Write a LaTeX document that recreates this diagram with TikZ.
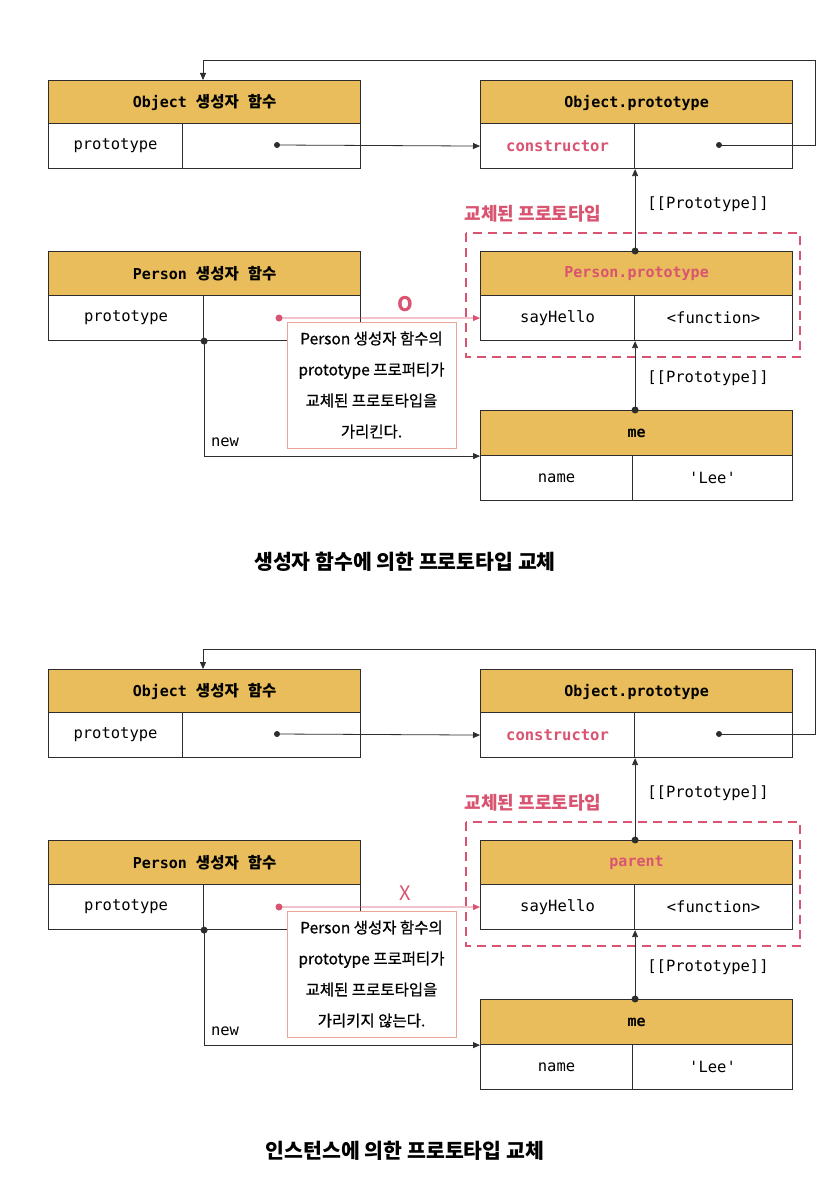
\documentclass[tikz,border=0pt]{standalone}
\usepackage{fontspec}
\setmainfont{Noto Sans CJK KR}
\setmonofont{DejaVu Sans Mono}
\newfontfamily\notefont{Noto Sans CJK KR}[FakeBold=0.7]
\usetikzlibrary{arrows.meta}

\definecolor{hdrgold}{RGB}{233,189,92}
\definecolor{jspink}{RGB}{217,84,112}
\definecolor{notepink}{RGB}{235,165,150}
\definecolor{ink}{RGB}{45,45,45}

\newcommand\code[1]{{\ttfamily\fontsize{15}{17}\selectfont #1}}
\newcommand\widesp{\spaceskip=9pt\relax}

\tikzset{
  hdr/.style={draw=ink, fill=hdrgold, line width=1.1pt, minimum width=312pt,
    minimum height=44pt, inner sep=0pt, anchor=north west,
    font=\fontsize{15.5}{18}\selectfont\bfseries},
  cell/.style={draw=ink, fill=white, line width=1.1pt, minimum height=45pt,
    inner sep=0pt, anchor=north west, font=\ttfamily\fontsize{15.5}{17}\selectfont},
  link/.style={draw=ink, line width=0.8pt, -{Triangle[length=7pt,width=6pt]}},
  dot/.style={fill=ink},
  codelbl/.style={font=\ttfamily\fontsize{15.5}{17}\selectfont},
  swaplbl/.style={text=jspink, font=\fontsize{18}{20}\selectfont\bfseries},
  dashbox/.style={draw=jspink, line width=2.2pt, dash pattern=on 9pt off 6pt},
  callout/.style={draw=notepink, fill=white, line width=0.9pt, minimum width=169pt,
    minimum height=126pt, align=center, font=\notefont\fontsize{15.5}{31}\selectfont},
  caption/.style={font=\fontsize{20.5}{24}\selectfont\bfseries}
}

% #1 prefix, #2 replaced prototype, #3 mark, #4 last note line, #5 caption
\newcommand\protoscene[5]{%
% dashed frame round the replaced prototype
\draw[dashbox] (466,233) rectangle (800,357);
\node[swaplbl] (#1swap) at (533,214) {교체된 프로토타입};

% Object constructor
\node[hdr] (#1och) at (48,80) {\widesp\code{Object} 생성자 함수};
\node[cell, minimum width=134pt] (#1ocl) at (48,123) {prototype};
\node[cell, minimum width=178pt] (#1ocr) at (182,123) {};

% Object.prototype
\node[hdr] (#1oph) at (480,80) {\code{Object.prototype}};
\node[cell, minimum width=154pt, text=jspink, font=\ttfamily\bfseries\fontsize{15.5}{17}\selectfont] (#1opl) at (480,123) {constructor};
\node[cell, minimum width=158pt] (#1opr) at (634,123) {};

% Person constructor
\node[hdr] (#1pch) at (48,251) {\widesp\code{Person} 생성자 함수};
\node[cell, minimum width=155pt] (#1pcl) at (48,295) {prototype};
\node[cell, minimum width=157pt] (#1pcr) at (203,295) {};

% replaced prototype
\node[hdr, text=jspink] (#1pph) at (480,251) {\code{#2}};
\node[cell, minimum width=154pt] (#1ppl) at (480,295) {sayHello};
\node[cell, minimum width=158pt] (#1ppr) at (634,295) {<function>};

% instance
\node[hdr, minimum height=45pt] (#1meh) at (480,410) {\code{me}};
\node[cell, minimum width=152pt] (#1mel) at (480,455) {name};
\node[cell, minimum width=160pt] (#1mer) at (632,455) {'Lee'};

% links
\coordinate (#1ocdot) at (277,145);
\coordinate (#1opdot) at (719,145);
\coordinate (#1loop) at (815,60);
\coordinate (#1pcdot) at (279,318);
\coordinate (#1ppup) at (#1pph.north -| #1opl.south east);
\coordinate (#1meup) at (#1meh.north -| #1ppl.south east);

\draw[link] (#1ocdot) -- (#1opl.west);
\fill[dot] (#1ocdot) circle (3pt);
\draw[link] (#1opdot) -| (#1loop) -| ([xshift=155pt]#1och.north west);
\fill[dot] (#1opdot) circle (3pt);
\draw[link] (#1ppup) -- (#1opl.south east);
\fill[dot] (#1ppup) circle (3.5pt);
\node[codelbl] (#1protoa) at (708,204) {[[Prototype]]};

\draw[link] (#1pcl.south east) |- (#1meh.south west);
\fill[dot] (#1pcl.south east) circle (3.5pt);
\node[codelbl] (#1new) at (225,442) {new};

\draw[link] (#1meup) -- (#1ppl.south east);
\fill[dot] (#1meup) circle (3.5pt);
\node[codelbl] (#1protob) at (708,378) {[[Prototype]]};

\draw[link, draw=jspink] (#1pcdot) -- (#1ppl.west);
\fill[jspink] (#1pcdot) circle (3.5pt);
\node[text=jspink, font=\fontsize{20}{22}\selectfont] (#1mark) at (405,304) {#3};

\node[callout] (#1note) at (371.5,385) {Person 생성자 함수의\\prototype 프로퍼티가\\교체된 프로토타입을\\#4};

\node[caption] (#1cap) at (405,562) {#5};
}

\begin{document}
\begin{tikzpicture}[x=1pt, y=-1pt]
\useasboundingbox (0,0) rectangle (822,1188);

% by constructor function
\protoscene{a}{Person.prototype}{\bfseries O}{가리킨다.}{생성자 함수에 의한 프로토타입 교체}

% by instance
\begin{scope}[shift={(0,589)}]
\protoscene{b}{parent}{X}{가리키지 않는다.}{인스턴스에 의한 프로토타입 교체}
\end{scope}

\end{tikzpicture}
\end{document}
